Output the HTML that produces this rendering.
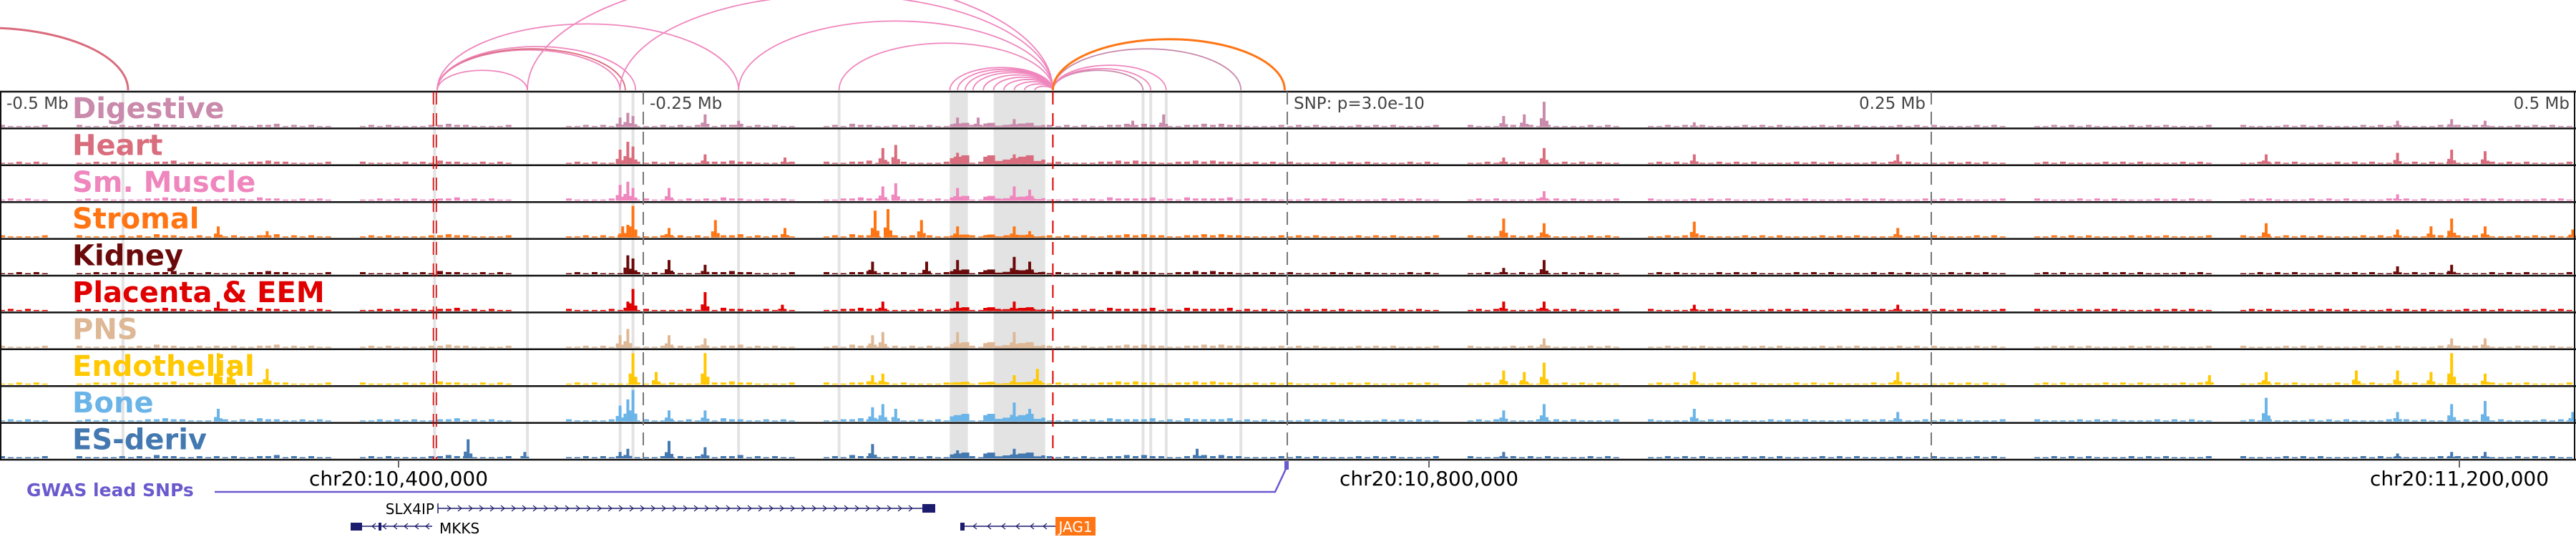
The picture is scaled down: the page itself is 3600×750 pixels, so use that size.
<!DOCTYPE html>
<html><head><meta charset="utf-8"><title>JAG1 locus tracks</title>
<style>
html,body{margin:0;padding:0;background:#fff;}
svg{display:block;}
text{font-family:"DejaVu Sans","Liberation Sans",sans-serif;}
</style></head>
<body>
<svg id="chart" width="3600" height="750" viewBox="0 0 3600 750" xmlns="http://www.w3.org/2000/svg">
<g id="arcs"></g>
<g id="shades"></g>
<g id="tracks"></g>
<g id="frame"></g>
<g id="labels"></g>
<g id="axis"></g>
<g id="genes"></g>
</svg>
<script>
// ---- data (kb offsets relative to lead SNP) ----
const trackNames = ["Digestive","Heart","Sm. Muscle","Stromal","Kidney","Placenta & EEM","PNS","Endothelial","Bone","ES-deriv"];
const trackColors = ["#c98aab","#d96c7d","#ef86bd","#ff7514","#6b0a0a","#e00000","#deb896","#ffc800","#6ab4e8","#4378b0"];
const bgLevels = [1,1,0,1,1,1,2,1,1,1, 2,1,1,0,1,1,1,2,1,1, 0,0,1,1,1,1,1,1,2,1, 1,0,1,2,1,1,1,1,1,1, 1,1,1,2,2,1,2,2,1,1, 1,1,1,1,1,1,0,1,1,1, 1,1,1,0,1,1,1,1,1,1, 1,1,1,1,1,1,1,1,0,1, 1,1,1,1,1,1,0,1,1,1, 1,1,1,1,1,1,1,1,1,1];
const blockRegions = [[-131,-124],[-118,-94]];
const blockLevels = [0.22,0.45,0.25,0.15,0.25,0.2,0.3,0.15,0.4,0.3];
const peaksDigestive = [[-259,0.3],[-256,0.45],[-254,0.35],[-226,0.4],[-213,0.2],[-128,0.3],[-120,0.3],[-106,0.25],[-60,0.2],[-48,0.4],[84,0.35],[92,0.4],[99.7,0.8],[158,0.15],[431,0.2],[452,0.25],[465,0.2]];
const peaksHeart = [[-259,0.45],[-256,0.7],[-254,0.55],[-226,0.3],[-195,0.2],[-157,0.5],[-152,0.6],[-128,0.35],[-106,0.3],[84,0.2],[99.7,0.5],[158,0.3],[237,0.3],[380,0.3],[431,0.35],[452,0.45],[465,0.4]];
const peaksSmMuscle = [[-259,0.5],[-256,0.6],[-254,0.4],[-240,0.4],[-157,0.45],[-152,0.55],[-128,0.4],[-106,0.45],[-100,0.35],[99.7,0.3],[431,0.2]];
const peaksStromal = [[-415,0.35],[-396,0.2],[-258,0.35],[-256,0.4],[-254,1.0],[-240,0.3],[-222,0.55],[-195,0.3],[-160,0.85],[-155,0.9],[-142,0.55],[-128,0.35],[-106,0.35],[-100,0.2],[84,0.6],[99.7,0.45],[158,0.5],[237,0.3],[380,0.45],[431,0.25],[444,0.35],[452,0.6],[465,0.35],[499,0.25]];
const peaksKidney = [[-256,0.6],[-254,0.5],[-240,0.45],[-226,0.3],[-161,0.4],[-140,0.4],[-128,0.45],[-106,0.55],[-100,0.4],[84,0.2],[99.7,0.45],[431,0.25],[452,0.3]];
const peaksPlacenta = [[-415,0.3],[-256,0.3],[-254,0.7],[-226,0.6],[-196,0.2],[-157,0.3],[-128,0.3],[-106,0.3],[84,0.3],[99.7,0.3],[158,0.2],[237,0.2]];
const peaksPNS = [[-259,0.4],[-256,0.6],[-240,0.4],[-226,0.3],[-161,0.4],[-157,0.5],[-128,0.5],[-106,0.5],[99.7,0.3],[452,0.3],[465,0.3]];
const peaksEndothelial = [[-415,1.0],[-410,0.7],[-396,0.5],[-254,1.0],[-245,0.4],[-226,1.0],[-161,0.3],[-157,0.35],[-106,0.3],[-97,0.5],[84,0.45],[92,0.4],[99.7,0.7],[158,0.4],[237,0.4],[358,0.3],[380,0.4],[415,0.45],[431,0.45],[444,0.4],[452,1.0],[465,0.35]];
const peaksBone = [[-415,0.4],[-259,0.5],[-256,0.7],[-254,1.0],[-240,0.35],[-226,0.35],[-161,0.45],[-157,0.55],[-152,0.4],[-106,0.6],[-100,0.4],[84,0.35],[99.7,0.55],[158,0.4],[237,0.3],[380,0.75],[431,0.3],[452,0.55],[465,0.65],[499,0.3]];
const peaksES = [[-318,0.6],[-296,0.2],[-259,0.2],[-256,0.3],[-240,0.55],[-226,0.35],[-161,0.45],[-128,0.25],[-106,0.3],[-35,0.3],[84,0.2],[431,0.15],[452,0.2],[465,0.2]];
const allPeaks = [peaksDigestive,peaksHeart,peaksSmMuscle,peaksStromal,peaksKidney,peaksPlacenta,peaksPNS,peaksEndothelial,peaksBone,peaksES];
const wideShades = [[-131,-124],[-114,-94]];
const thinShades = [-452,-331,-295,-259,-254,-213,-174,-56,-53,-47,-18];
const arcStarts = [-560,-330,-330,-330,-330,-330,-259,-295,-213,-174,-131,-128,-125,-122,-118,-114,-110,-106,-102,-98,-91,-91,-91,-91,-91];
const arcEnds   = [-450,-295,-259,-257,-253,-213,-91,-91,-91,-91,-91,-91,-91,-91,-91,-91,-91,-91,-91,-91,-56,-53,-47,-18,-1];
const arcColors = ["#d96c7d","#ef86bd","#ef86bd","#d96c7d","#ef86bd","#ef86bd","#ef86bd","#ef86bd","#ef86bd","#ef86bd","#ef86bd","#ef86bd","#ef86bd","#ef86bd","#ef86bd","#ef86bd","#ef86bd","#ef86bd","#ef86bd","#ef86bd","#c98aab","#ef86bd","#ef86bd","#c98aab","#ff7514"];
const axisTicks = [10400000,10800000,11200000];
const axisLabels = ["chr20:10,400,000","chr20:10,800,000","chr20:11,200,000"];
const snpPos = 10745000;
const offsetTicks = [-500,-250,0,250,500];
const offsetLabels = ["-0.5 Mb","-0.25 Mb","SNP: p=3.0e-10","0.25 Mb","0.5 Mb"];

// ---- scales ----
const NS="http://www.w3.org/2000/svg";
const X0=1799, PXKB=3.6, TOP=128, TH=51.4;
const xk = kb => X0 + kb*PXKB;
const xg = pos => xk((pos-snpPos)/1000);
const trackTop = i => TOP + i*TH;
const trackBase = i => TOP + (i+1)*TH - 2;
function el(tag, attrs, parent){const e=document.createElementNS(NS,tag);for(const k in attrs)e.setAttribute(k,attrs[k]);parent.appendChild(e);return e;}
const G = id => document.getElementById(id);

// arcs
arcStarts.forEach((s,i)=>{
  const a=xk(s), b=xk(arcEnds[i]); const w=Math.abs(b-a); const h=w*0.22;
  const p=el('path',{d:`M${a},126 A${w/2},${h} 0 0 1 ${b},126`,fill:'none',stroke:arcColors[i],'stroke-width':(i===0||arcColors[i]==='#ff7514')?3:1.8},G('arcs'));
  
  
});

// shades
const shadeTop=TOP+2, shadeBot=trackBase(9);
wideShades.forEach(r=>{
  const e=el('rect',{x:xk(r[0]),y:shadeTop,width:xk(r[1])-xk(r[0]),height:shadeBot-shadeTop,fill:'#e3e3e3'},G('shades'));
  
  
});
thinShades.forEach(k=>{
  const e=el('rect',{x:xk(k)-2,y:shadeTop,width:4,height:shadeBot-shadeTop,fill:'#e3e3e3'},G('shades'));
  
  
});

// tracks
const MAXH=44;
allPeaks.forEach((peaks,t)=>{
  const g=el('g',{fill:trackColors[t]},G('tracks'));
  
  
  const base=trackBase(t);
  bgLevels.forEach((lv,b)=>{
    if(!lv) return;
    const kb=-500+b*10;
    for(let j=0;j<3;j++){
      const x=xk(kb+j*3.3);
      el('rect',{x:x,y:base-lv*1.5-((b+j+t)%3===0?1.5:0),width:8,height:lv*1.5+((b+j+t)%3===0?1.5:0)},g);
    }
  });
  blockRegions.forEach(r=>{
    for(let kb=r[0];kb<r[1];kb+=1.5){
      const v=blockLevels[t]*MAXH*(0.6+0.4*(((kb*7)|0)%5)/4);
      el('rect',{x:xk(kb),y:base-v,width:5.6,height:v},g);
    }
  });
  peaks.forEach(p=>{
    const h=p[1]*MAXH, x=xk(p[0]);
    el('rect',{x:x-2,y:base-h,width:4,height:h},g);
    el('rect',{x:x-6,y:base-h*0.35,width:4,height:h*0.35},g);
    el('rect',{x:x+2,y:base-h*0.25,width:4,height:h*0.25},g);
  });
});

// frame
const fr=G('frame');
for(let i=0;i<=10;i++){el('line',{x1:0,x2:3600,y1:trackTop(i),y2:trackTop(i),stroke:'#111','stroke-width':2.5},fr);}
el('line',{x1:1,x2:1,y1:TOP,y2:trackTop(10),stroke:'#111','stroke-width':2},fr);
el('line',{x1:3598,x2:3598,y1:TOP,y2:trackTop(10),stroke:'#111','stroke-width':2},fr);
offsetTicks.forEach(k=>{
  if(k===-500||k===500) return;
  el('line',{x1:xk(k),x2:xk(k),y1:TOP,y2:trackTop(10),stroke:'#777','stroke-width':2,'stroke-dasharray':'18,10'},fr);
});
[-331.5,-330.3].forEach(k=>el('line',{x1:xk(k),x2:xk(k),y1:TOP,y2:trackTop(10),stroke:'#e00000','stroke-width':1.6,'stroke-dasharray':'18,12'},fr));
el('line',{x1:xk(-91),x2:xk(-91),y1:TOP,y2:trackTop(10),stroke:'#e00000','stroke-width':2,'stroke-dasharray':'18,12'},fr);

// offset labels
const lb=G('labels');
offsetLabels.forEach((s,i)=>{
  const k=offsetTicks[i];
  let x=xk(k)+9, anchor='start';
  if(k>0){x=xk(k)-8;anchor='end';}
  if(k===-500) x=9;
  const t=el('text',{x:x,y:152,'font-size':23,fill:'#444','text-anchor':anchor},lb);
  t.textContent=s;
  
  
});
trackNames.forEach((n,i)=>{
  const t=el('text',{x:101,y:trackTop(i)+37,'font-size':40,'font-weight':'bold',fill:trackColors[i]},lb);
  t.textContent=n;
  
  
});

// axis
const ax=G('axis');
axisTicks.forEach((p,i)=>{
  el('line',{x1:xg(p),x2:xg(p),y1:642,y2:653,stroke:'#666','stroke-width':2},ax);
  const t=el('text',{x:xg(p),y:678,'font-size':28,fill:'#000','text-anchor':'middle'},ax);
  t.textContent=axisLabels[i];
  
  
});

// genes / GWAS
const gn=G('genes');
const gw=el('text',{x:37,y:693,'font-size':25,'font-weight':'bold',fill:'#6a5acd'},gn);
gw.textContent='GWAS lead SNPs';


el('polyline',{points:`300,687 1782,687 1797,655`,fill:'none',stroke:'#6a5acd','stroke-width':2.5},gn);
el('rect',{x:1795,y:644,width:6,height:12,fill:'#6a5acd'},gn);
// SLX4IP
el('line',{x1:612,x2:1300,y1:710,y2:710,stroke:'#1c1c6e','stroke-width':1.5},gn);
el('line',{x1:612,x2:612,y1:703,y2:717,stroke:'#1c1c6e','stroke-width':1.5},gn);
for(let x=625;x<1280;x+=15) el('path',{d:`M${x},706 L${x+5},710 L${x},714`,fill:'none',stroke:'#1c1c6e','stroke-width':1.2},gn);
el('rect',{x:1289,y:704,width:18,height:12,fill:'#1c1c6e'},gn);
const s1=el('text',{x:607,y:718,'font-size':20,fill:'#000','text-anchor':'end'},gn);s1.textContent='SLX4IP';


// MKKS
el('line',{x1:490,x2:604,y1:735,y2:735,stroke:'#1c1c6e','stroke-width':1.5},gn);
el('rect',{x:490,y:730,width:16,height:11,fill:'#1c1c6e'},gn);
el('rect',{x:529,y:730,width:4,height:11,fill:'#1c1c6e'},gn);
for(let x=520;x<600;x+=15) el('path',{d:`M${x+5},731 L${x},735 L${x+5},739`,fill:'none',stroke:'#1c1c6e','stroke-width':1.2},gn);
const s2=el('text',{x:614,y:745,'font-size':20,fill:'#000'},gn);s2.textContent='MKKS';


// JAG1
el('line',{x1:1342,x2:1475,y1:735,y2:735,stroke:'#1c1c6e','stroke-width':1.5},gn);
el('rect',{x:1342,y:730,width:6,height:11,fill:'#1c1c6e'},gn);
[1360,1380,1400,1420,1440,1458].forEach(x=>el('path',{d:`M${x+5},731 L${x},735 L${x+5},739`,fill:'none',stroke:'#1c1c6e','stroke-width':1.2},gn));
el('rect',{x:1475,y:722,width:56,height:26,fill:'#ff7514'},gn);
const s3=el('text',{x:1503,y:743,'font-size':20,fill:'#fff','text-anchor':'middle'},gn);s3.textContent='JAG1';


</script>
</body></html>
